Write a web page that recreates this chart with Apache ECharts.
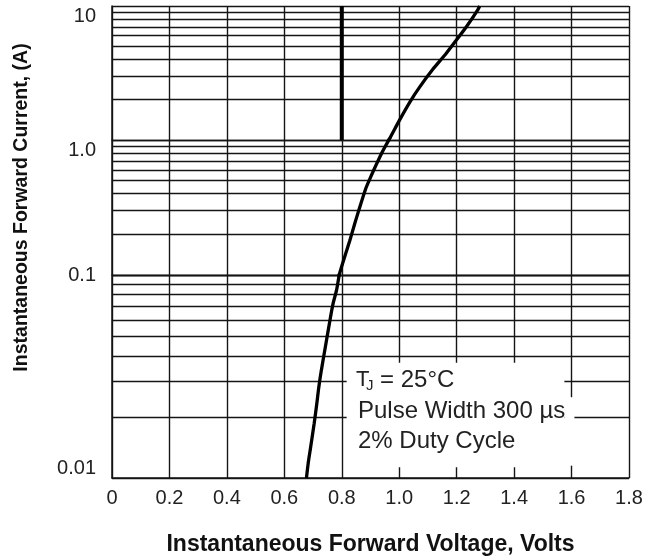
<!DOCTYPE html>
<html><head><meta charset="utf-8">
<script src="https://cdn.jsdelivr.net/npm/echarts@6/dist/echarts.min.js"></script>
<style>html,body{margin:0;padding:0;background:#fff}#c{width:659px;height:560px}</style>
</head><body><div id="c"></div>
<script>
// Forward voltage (V) vs forward current (A)
const voltage = [0.677, 0.683, 0.691, 0.704, 0.713, 0.720, 0.729, 0.741, 0.752, 0.761, 0.770, 0.782, 0.791, 0.802, 0.814, 0.828, 0.845, 0.859, 0.883, 0.900, 0.915, 0.938, 0.953, 0.967, 1.002, 1.037, 1.071, 1.117, 1.164, 1.199, 1.234, 1.274, 1.280];
const current = [0.010, 0.0118, 0.0140, 0.0186, 0.0232, 0.0280, 0.0340, 0.0427, 0.0526, 0.0623, 0.0726, 0.0844, 0.100, 0.120, 0.145, 0.180, 0.240, 0.300, 0.434, 0.528, 0.623, 0.791, 0.910, 1.03, 1.42, 1.92, 2.48, 3.37, 4.44, 5.57, 7.00, 9.40, 10.0];
const xTickLabels = ['0', '0.2', '0.4', '0.6', '0.8', '1.0', '1.2', '1.4', '1.6', '1.8'];
const yTickLabels = ['0.01', '0.1', '1.0', '10']; // by exponent +2
const decades = [[1, 10], [0.1, 1], [0.01, 0.1]];
const thickLineX = [0.8, 0.8];
const thickLineY = [1, 10];
const maskBoxes = [[[0.817, 0.0113], [1.575, 0.037]], [[1.575, 0.0115], [1.61, 0.025]]];
const xTitle = 'Instantaneous Forward Voltage, Volts';
const yTitle = 'Instantaneous Forward Current, (A)';
const noteT = 'T', noteSub = 'J', noteTemp = '= 25°C';
const notePulse = 'Pulse Width 300 µs';
const noteDuty = '2% Duty Cycle';

const FONT = '"Liberation Sans", Arial, sans-serif';
const GRIDC = '#151515';
const chart = echarts.init(document.getElementById('c'), null, {renderer: 'canvas'});

const gridBoxes = [{top: 6, height: 134}, {top: 140, height: 135}, {top: 275, height: 203}];
const grids = gridBoxes.map(g => ({left: 112, right: 30, top: g.top, height: g.height, containLabel: false}));

const xAxes = decades.map((d, i) => ({
  type: 'value', gridIndex: i, min: 0, max: 1.8, interval: 0.2,
  axisLine: {show: i === 2, lineStyle: {color: GRIDC, width: 1.5}},
  axisTick: {show: false},
  axisLabel: {show: i === 2, margin: 10, fontFamily: FONT, fontSize: 20, color: '#222',
    formatter: v => xTickLabels[Math.round(v / 0.2)]},
  splitLine: {show: true, lineStyle: {color: GRIDC, width: 1.4}},
  name: i === 2 ? xTitle : '', nameLocation: 'middle', nameGap: 55,
  nameTextStyle: {fontFamily: FONT, fontWeight: 'bold', fontSize: 23, color: '#111'}
}));

const yAxes = decades.map((d, i) => ({
  type: 'log', logBase: 10, gridIndex: i, min: d[0], max: d[1],
  axisLine: {show: true, lineStyle: {color: GRIDC, width: 1.5}},
  axisTick: {show: false},
  minorTick: {show: false, splitNumber: 9},
  minorSplitLine: {show: true, lineStyle: {color: GRIDC, width: 1.4}},
  splitLine: {show: true, lineStyle: {color: GRIDC, width: 1.4}},
  axisLabel: {
    showMinLabel: i === 2, margin: 16, fontFamily: FONT, fontSize: 20, color: '#222',
    verticalAlign: i === 2 ? 'middle' : 'top',
    formatter: v => {
      const e = Math.round(Math.log10(v));
      const t = yTickLabels[e + 2];
      return e === -2 ? '{lo|' + t + '}' : t;
    },
    rich: {lo: {fontFamily: FONT, fontSize: 20, color: '#222', padding: [0, 0, 20, 0]}}
  },
  name: i === 1 ? yTitle : '', nameLocation: 'middle', nameRotate: 90, nameGap: 80,
  nameTextStyle: {fontFamily: FONT, fontWeight: 'bold', fontSize: 19.5, color: '#111'}
}));

const curveData = voltage.map((v, k) => [v, current[k]]);
const series = decades.map((d, i) => ({
  type: 'line', xAxisIndex: i, yAxisIndex: i, data: curveData,
  showSymbol: false, symbol: 'none', clip: true, smooth: 0.25, z: 5,
  lineStyle: {color: '#000', width: 3.3}, silent: true,
  markArea: i === 2 ? {
    silent: true, itemStyle: {color: '#fff', opacity: 1, borderWidth: 0},
    data: maskBoxes.map(b => [{coord: b[0]}, {coord: b[1]}])
  } : undefined
}));
series.push({
  type: 'line', xAxisIndex: 0, yAxisIndex: 0, silent: true,
  data: thickLineX.map((x, k) => [x, thickLineY[k]]),
  showSymbol: false, symbol: 'none', lineStyle: {color: '#000', width: 4}, z: 4
});

const noteStyle = {fontFamily: FONT, fontSize: 24, fill: '#222'};
chart.setOption({
  animation: false,
  backgroundColor: '#fff',
  grid: grids, xAxis: xAxes, yAxis: yAxes, series: series,
  graphic: [
    {type: 'text', left: 356, top: 369, z: 20, style: Object.assign({}, noteStyle, {text: noteT, fontSize: 22})},
    {type: 'text', left: 366, top: 378, z: 20, style: Object.assign({}, noteStyle, {text: noteSub, fontSize: 15})},
    {type: 'text', left: 380, top: 368, z: 20, style: Object.assign({}, noteStyle, {text: noteTemp})},
    {type: 'text', left: 358, top: 399, z: 20, style: Object.assign({}, noteStyle, {text: notePulse})},
    {type: 'text', left: 358, top: 429, z: 20, style: Object.assign({}, noteStyle, {text: noteDuty})}
  ]
});
</script></body></html>
